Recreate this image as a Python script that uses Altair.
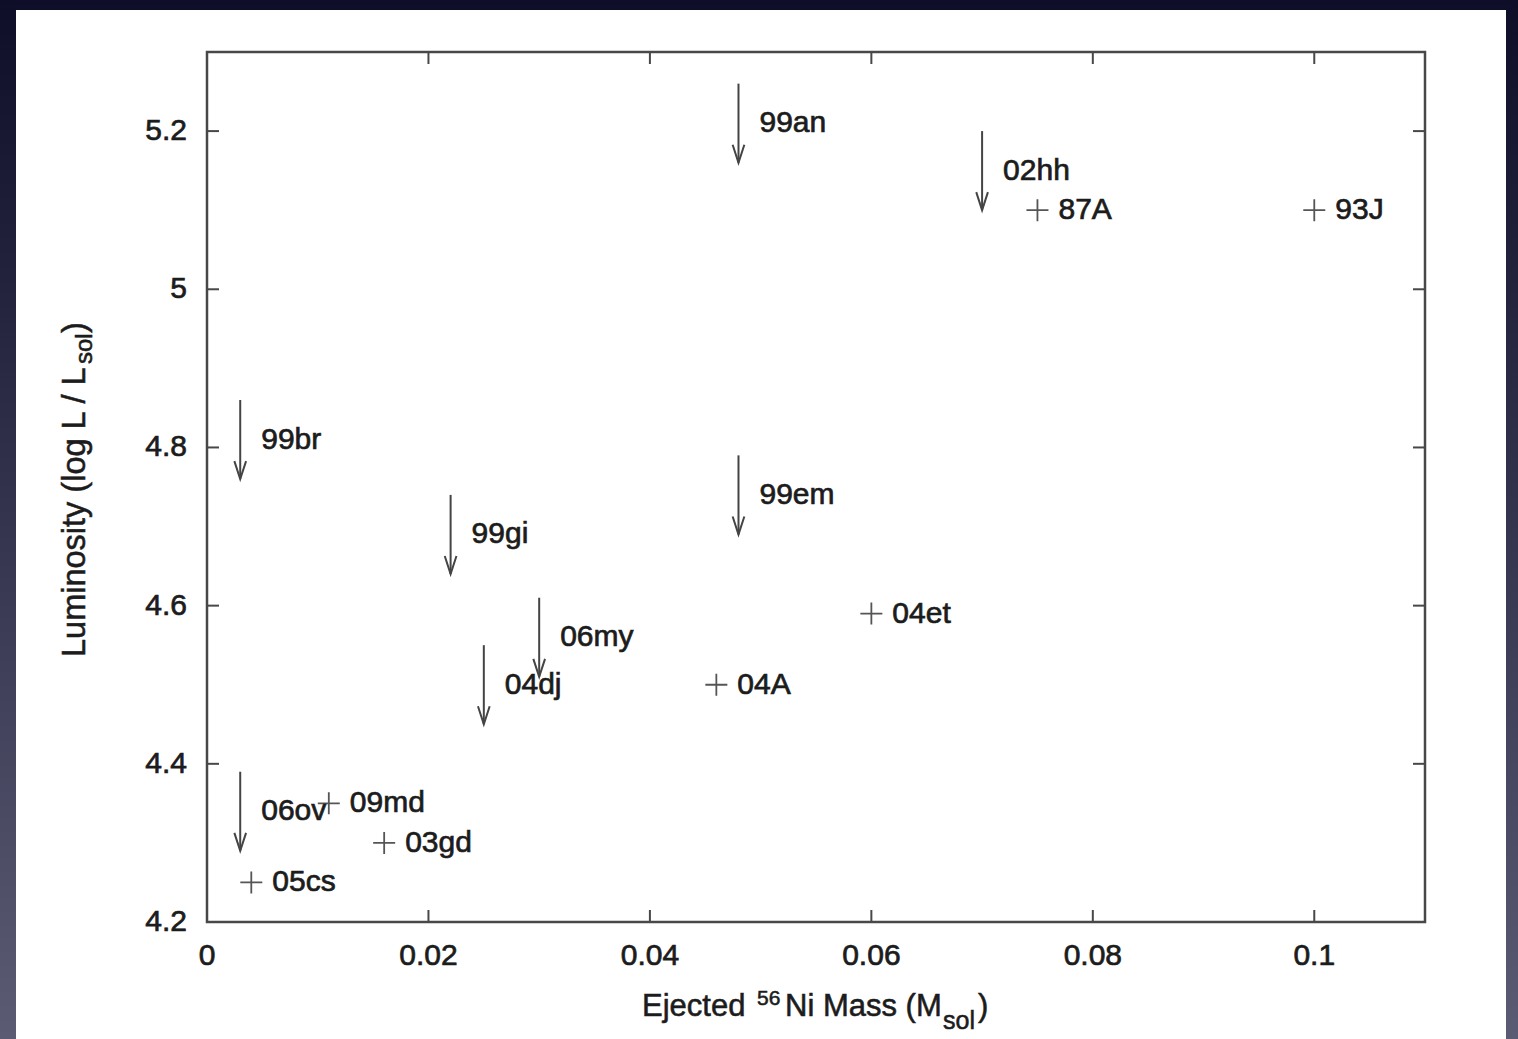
import altair as alt
import pandas as pd

# ---- data ----
det_names = ["87A", "93J", "04et", "04A", "09md", "03gd", "05cs"]
det_ni = [0.075, 0.100, 0.060, 0.046, 0.011, 0.016, 0.004]
det_lum = [5.10, 5.10, 4.59, 4.50, 4.35, 4.30, 4.25]

lim_names = ["99an", "02hh", "99br", "99em", "99gi", "06my", "04dj", "06ov"]
lim_ni = [0.048, 0.070, 0.003, 0.048, 0.022, 0.030, 0.025, 0.003]
lim_top = [5.26, 5.20, 4.86, 4.79, 4.74, 4.61, 4.55, 4.39]
lim_tip = [5.16, 5.10, 4.76, 4.69, 4.64, 4.51, 4.45, 4.29]

x_ticks = [0, 0.02, 0.04, 0.06, 0.08, 0.1]
x_tick_labels = ["0", "0.02", "0.04", "0.06", "0.08", "0.1"]
y_ticks = [4.2, 4.4, 4.6, 4.8, 5.0, 5.2]
y_tick_labels = ["4.2", "4.4", "4.6", "4.8", "5", "5.2"]

# ---- styling ----
FONT = "Liberation Sans"
TXT = "#1c1c1c"
FRAME = "#484848"
ARROW = "#444444"
CROSS = "#555555"
SW = 0.7  # text stroke to mimic the heavier look
W, H = 1218, 870
PL, PT, PR, PB = 207, 52, 93, 117

det_df = pd.DataFrame({"name": det_names, "ni": det_ni, "lum": det_lum})
lim_df = pd.DataFrame({"name": lim_names, "ni": lim_ni, "top": lim_top, "tip": lim_tip})
lab_df = pd.concat([
    pd.DataFrame({"name": det_names, "ni": det_ni, "ly": det_lum}),
    pd.DataFrame({"name": lim_names, "ni": lim_ni,
                  "ly": [(a + b) / 2 for a, b in zip(lim_top, lim_tip)]}),
])
xt_df = pd.DataFrame({"v": x_ticks, "lab": x_tick_labels})
yt_df = pd.DataFrame({"v": y_ticks, "lab": y_tick_labels})
one = pd.DataFrame({"a": [0]})

xs = alt.Scale(domain=[0, 0.11], nice=False, zero=False)
ys = alt.Scale(domain=[4.2, 5.3], nice=False, zero=False)


def X(f):
    return alt.X(f, type="quantitative", scale=xs, axis=None)


def Y(f):
    return alt.Y(f, type="quantitative", scale=ys, axis=None)


grad = alt.LinearGradient(
    gradient="linear",
    stops=[alt.GradientStop(color="#0e0e28", offset=0),
           alt.GradientStop(color="#34344e", offset=0.5),
           alt.GradientStop(color="#5b5b74", offset=1)],
    x1=0, x2=0, y1=0, y2=1,
)

bg = alt.Chart(one).mark_rect(color=grad).encode(
    x=alt.value(-PL), x2=alt.value(W + PR), y=alt.value(-PT), y2=alt.value(H + PB))
panel = alt.Chart(one).mark_rect(color="white").encode(
    x=alt.value(16 - PL), x2=alt.value(1506 - PL), y=alt.value(10 - PT), y2=alt.value(H + PB + 5))

tick_b = alt.Chart(xt_df).mark_rule(color=FRAME, strokeWidth=2).encode(
    x=X("v"), y=alt.value(H), y2=alt.value(H - 12))
tick_t = alt.Chart(xt_df).mark_rule(color=FRAME, strokeWidth=2).encode(
    x=X("v"), y=alt.value(0), y2=alt.value(12))
tick_l = alt.Chart(yt_df).mark_rule(color=FRAME, strokeWidth=2).encode(
    y=Y("v"), x=alt.value(0), x2=alt.value(12))
tick_r = alt.Chart(yt_df).mark_rule(color=FRAME, strokeWidth=2).encode(
    y=Y("v"), x=alt.value(W), x2=alt.value(W - 12))

xlab = alt.Chart(xt_df).mark_text(
    align="center", baseline="top", font=FONT, fontSize=30, color=TXT,
    stroke=TXT, strokeWidth=SW).encode(x=X("v"), y=alt.value(H + 19), text="lab")
ylab = alt.Chart(yt_df).mark_text(
    align="right", baseline="middle", font=FONT, fontSize=30, color=TXT,
    stroke=TXT, strokeWidth=SW).encode(y=Y("v"), x=alt.value(-20), text="lab")

frame = alt.Chart(one).mark_rect(fillOpacity=0, stroke=FRAME, strokeWidth=2.5).encode(
    x=alt.value(0), x2=alt.value(W), y=alt.value(0), y2=alt.value(H))

shaft = alt.Chart(lim_df).mark_rule(color=ARROW, strokeWidth=2).encode(
    x=X("ni"), y=Y("top"), y2="tip")
head = alt.Chart(lim_df).mark_point(
    shape="M-0.65,-2L0,0L0.65,-2", size=324, filled=False, stroke=ARROW,
    strokeWidth=2, opacity=1).encode(x=X("ni"), y=Y("tip"))
cross = alt.Chart(det_df).mark_point(
    shape="M-1,0L1,0M0,-1L0,1", size=484, filled=False, stroke=CROSS,
    strokeWidth=1.8, opacity=1).encode(x=X("ni"), y=Y("lum"))
labels = alt.Chart(lab_df).mark_text(
    align="left", baseline="middle", dx=21, font=FONT, fontSize=30, color=TXT,
    stroke=TXT, strokeWidth=SW).encode(x=X("ni"), y=Y("ly"), text="name")


def txt(s, x, y, size=30, angle=0):
    return alt.Chart(one).mark_text(
        text=s, align="left", baseline="alphabetic", font=FONT, fontSize=size,
        color=TXT, stroke=TXT, strokeWidth=SW * 0.8, angle=angle).encode(
        x=alt.value(x), y=alt.value(y))


titles = [
    txt("Ejected", 642 - PL, 1016 - PT, size=31),
    txt("56", 757 - PL, 1005 - PT, size=21),
    txt("Ni Mass (M", 785 - PL, 1016 - PT, size=31),
    txt("sol", 943 - PL, 1029 - PT, size=25),
    txt(")", 978 - PL, 1016 - PT, size=31),
    txt("Luminosity (log L / L", 85 - PL, 657 - PT, size=32.5, angle=270),
    txt("sol", 92 - PL, 364 - PT, size=24, angle=270),
    txt(")", 85 - PL, 333 - PT, size=32.5, angle=270),
]

chart = alt.layer(
    bg, panel, tick_b, tick_t, tick_l, tick_r, frame, xlab, ylab,
    shaft, head, cross, labels, *titles
).properties(
    width=W, height=H,
    autosize=alt.AutoSizeParams(type="none"),
    padding={"left": PL, "top": PT, "right": PR, "bottom": PB},
    background="#1a1a34",
).configure_view(strokeWidth=0)

chart.save("out.html", embed_options={"renderer": "svg", "actions": False})
